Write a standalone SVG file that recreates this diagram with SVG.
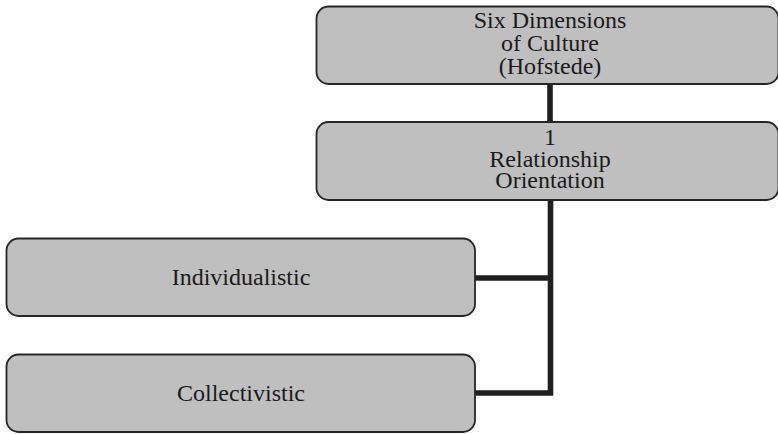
<svg xmlns="http://www.w3.org/2000/svg" width="778" height="434" viewBox="0 0 778 434">
  <style>
    .box { fill: #bfbfbf; stroke: #262626; stroke-width: 1.8; }
    .label { font-family: "Liberation Serif", "DejaVu Serif", serif; font-size: 24px; fill: #1a1a1a; text-anchor: middle; }
    .link { fill: none; stroke: #1f1f1f; stroke-width: 5.6; stroke-linejoin: miter; stroke-linecap: butt; }
  </style>
  <rect width="778" height="434" fill="#ffffff"/>

  <!-- connectors -->
  <g id="connectors">
    <path class="link" d="M550,84 V122"/>
    <path class="link" d="M550.5,200 V393 H475"/>
    <path class="link" d="M550.5,278 H475"/>
  </g>

  <!-- root -->
  <g id="node-root">
    <rect class="box" x="316.5" y="6.5" width="462" height="77.5" rx="12" ry="12"/>
    <text class="label" x="550" y="28">Six Dimensions</text>
    <text class="label" x="550" y="51">of Culture</text>
    <text class="label" x="550" y="74">(Hofstede)</text>
  </g>

  <!-- dimension 1 -->
  <g id="node-relationship">
    <rect class="box" x="316.5" y="122" width="462" height="78" rx="12" ry="12"/>
    <text class="label" x="550" y="145">1</text>
    <text class="label" x="550" y="166.5">Relationship</text>
    <text class="label" x="550" y="188">Orientation</text>
  </g>

  <!-- poles -->
  <g id="node-individualistic">
    <rect class="box" x="6.5" y="238.5" width="468.5" height="77.5" rx="12" ry="12"/>
    <text class="label" x="241" y="285">Individualistic</text>
  </g>

  <g id="node-collectivistic">
    <rect class="box" x="6.5" y="354.5" width="468.5" height="77.5" rx="12" ry="12"/>
    <text class="label" x="241" y="401">Collectivistic</text>
  </g>
</svg>
